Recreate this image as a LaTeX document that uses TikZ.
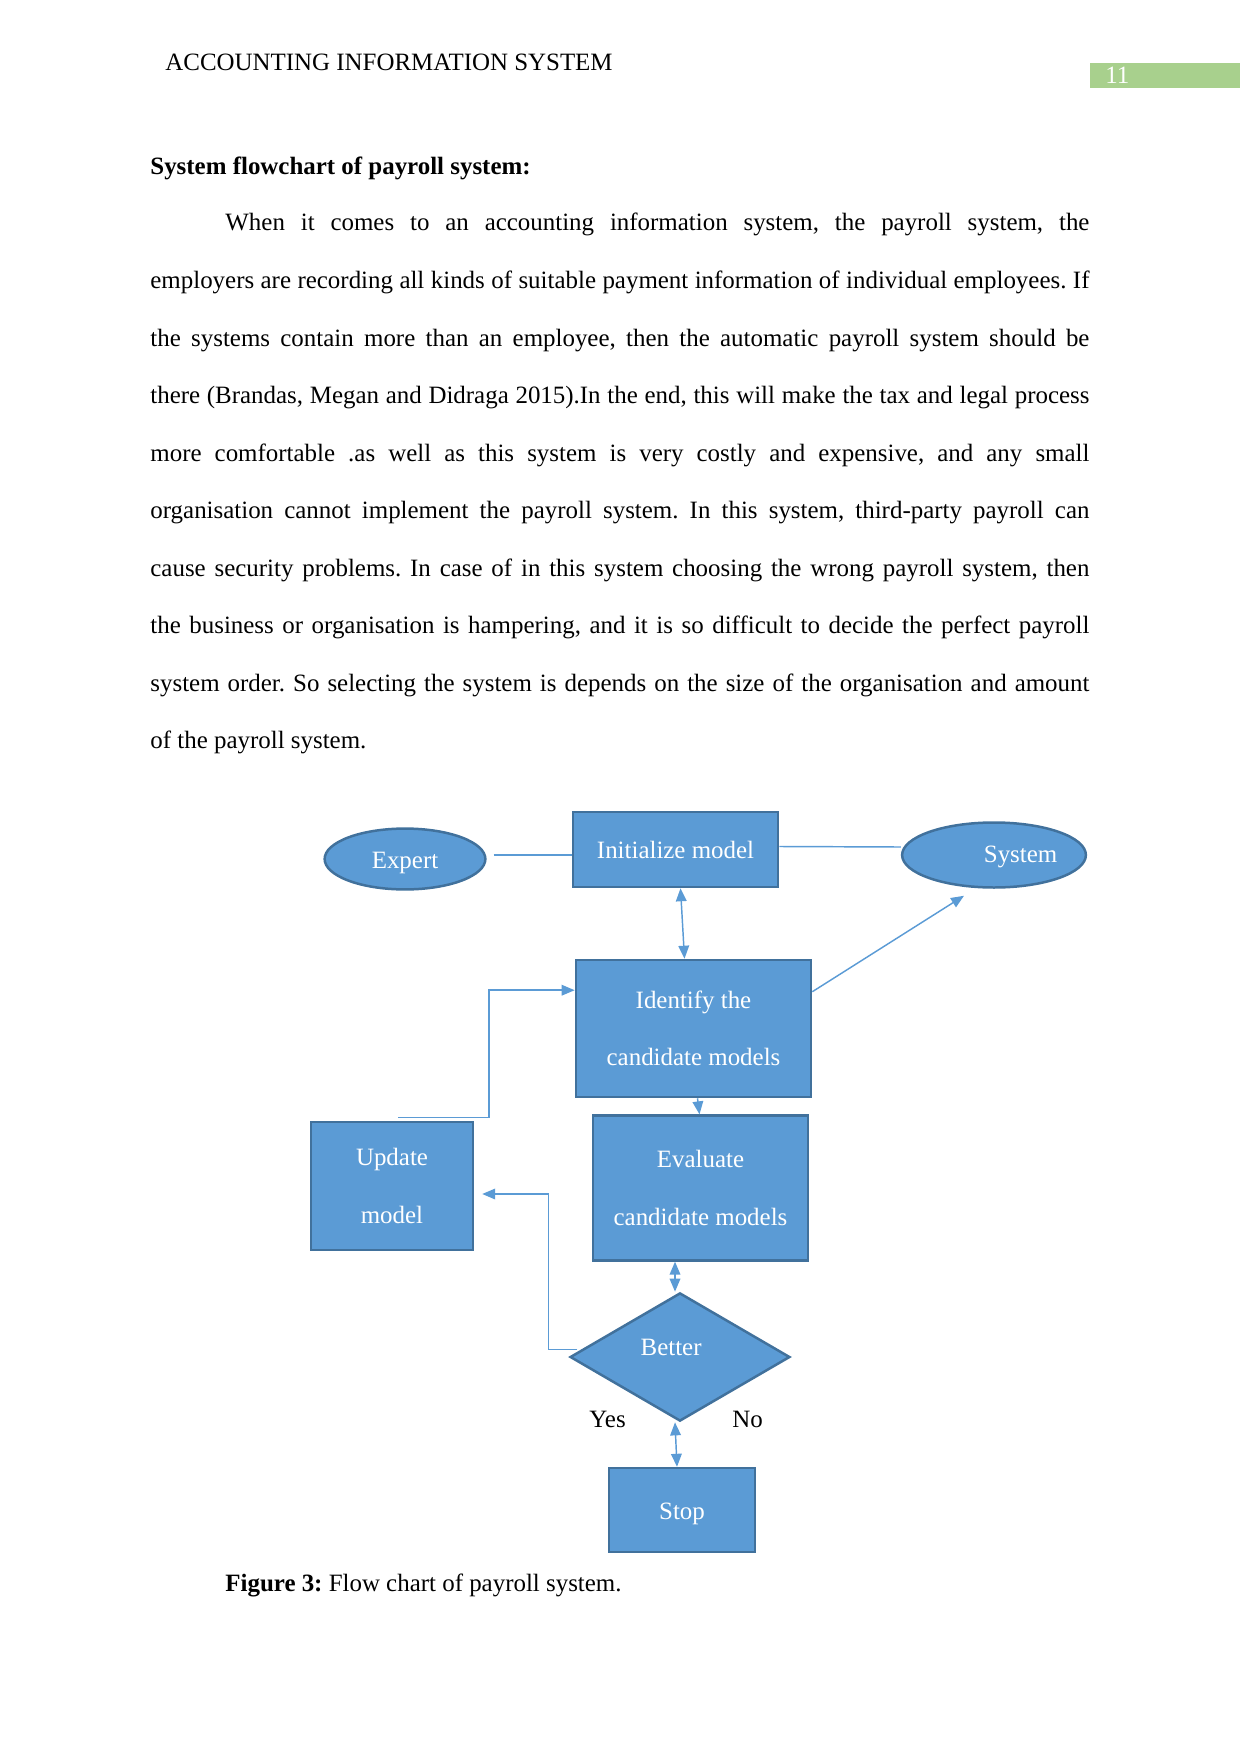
\documentclass[tikz,border=0pt,12pt]{standalone}
\usepackage{fontspec}
\setmainfont{Liberation Serif}
\usetikzlibrary{arrows.meta,shapes.geometric,calc}
\definecolor{boxblue}{HTML}{5B9BD5}
\definecolor{boxedge}{HTML}{41719C}
\definecolor{pagegreen}{HTML}{A8D08D}
\tikzset{line cap=round,line join=round}
\tikzset{
  twoline/.style={font=\fontsize{12}{27.7}\selectfont},
  flowbox/.style={draw=boxedge,line width=1.2pt,fill=boxblue,text=white,align=center,inner sep=0pt},
  flowoval/.style={flowbox,ellipse},
  link/.style={draw=boxblue,line width=0.7pt},
  linkto/.style={link,-{Triangle[length=2.2mm,width=1.8mm]}},
  linkboth/.style={link,{Triangle[length=2.2mm,width=1.8mm]}-{Triangle[length=2.2mm,width=1.8mm]}},
}
\frenchspacing

\begin{document}
\begin{tikzpicture}[x=0.16922mm,y=-0.16922mm]
  \path[use as bounding box] (0,0) rectangle (1241,1754);
  % page head
  \node[anchor=base west,inner sep=0pt] (runhead) at (165,71) {ACCOUNTING INFORMATION SYSTEM};
  \node[fill=pagegreen,text=white,minimum width=25.4mm,minimum height=4.2mm,text width=20.2mm,
        inner xsep=2.6mm,inner ysep=0pt,align=left] (pagenum) at (1165,75.5) {11};
  \node[anchor=base west,inner sep=0pt] (heading) at (150,175) {\bfseries System flowchart of payroll system:};
  \node[twoline,anchor=base west,text width=158.9mm,align=justify,inner sep=0pt] (body) at (150,231)
    {\tolerance=10000 \hyphenpenalty=10000 \hspace*{12.7mm}When it comes to an accounting information system, the payroll system, the\linebreak
     employers are recording all kinds of suitable payment information of individual employees. If\linebreak
     the systems contain more than an employee, then the automatic payroll system should be\linebreak
     there (Brandas, Megan and Didraga 2015).In the end, this will make the tax and legal process\linebreak
     more comfortable .as well as this system is very costly and expensive, and any small\linebreak
     organisation cannot implement the payroll system. In this system, third-party payroll can\linebreak
     cause security problems. In case of in this system choosing the wrong payroll system, then\linebreak
     the business or organisation is hampering, and it is so difficult to decide the perfect payroll\linebreak
     system order. So selecting the system is depends on the size of the organisation and amount\linebreak
     of the payroll system.};

  % flow chart
  \node[flowbox,minimum width=34.7mm,minimum height=12.7mm] (init) at (675.5,849.5) {Initialize model};
  \node[flowoval,minimum width=27.2mm,minimum height=10.3mm] (expert) at (405,859) {\raisebox{-0.6mm}[\height][\depth]{Expert}};
  \node[flowoval,minimum width=31.1mm,minimum height=11mm] (system) at (994,855) {\hspace*{9mm}\raisebox{-0.4mm}[\height][\depth]{System}};
  \node[flowbox,twoline,minimum width=39.8mm,minimum height=23.2mm] (ident) at (693.5,1028.5) {Identify the\\candidate models};
  \node[flowbox,twoline,minimum width=27.4mm,minimum height=21.7mm] (update) at (392,1186) {Update\\model};
  \node[flowbox,twoline,minimum width=36.4mm,minimum height=24.5mm] (eval) at (700.5,1188) {Evaluate\\candidate models};
  \node[flowbox,diamond,aspect=1.7,minimum width=37.2mm,minimum height=21.7mm] (better) at (680,1357) {\raisebox{3.4mm}{Better}\hspace*{3mm}};
  \node[flowbox,minimum width=24.7mm,minimum height=14.2mm] (stop) at (682,1510) {\raisebox{-0.6mm}[\height][\depth]{Stop}};
  \node (yes) at (607.6,1419) {Yes};
  \node (no) at (747.5,1419) {No};

  \draw[link] ($(expert.east)+(7,-4)$) -- (init.west |- {$(expert.east)+(7,-4)$});
  \draw[link] ($(init.east)+(0,-3)$) -- ($(system.west)+(0,-8)$);
  \draw[linkboth] ($(init.south)+(5,0)$) -- ($(ident.north)+(-9,0)$);
  \draw[linkto] ($(ident.north east)+(0,33)$) -- ($(system.south)+(-30,7)$);
  \draw[linkto] ($(ident.south)+(4,0)$) -- ($(eval.north)+(-1,0)$);
  \draw[linkto] ($(update.north)+(6,-3)$) -- ++(91,0) |- ($(ident.north west)+(0,31.5)$);
  \draw[linkboth] ($(eval.south)+(-25.5,0)$) -- ($(better.north)+(-5,0)$);
  \draw[linkto] ($(better.west)+(8.5,-7.5)$) -- ++(-29,0) |- ($(update.east)+(8,8)$);
  \draw[linkboth] ($(better.south)+(-5,0)$) -- ($(stop.north)+(-5,0)$);

  \node[anchor=base west,inner sep=0pt] (caption) at (225,1591) {\textbf{Figure 3:} Flow chart of payroll system.};
\end{tikzpicture}
\end{document}
